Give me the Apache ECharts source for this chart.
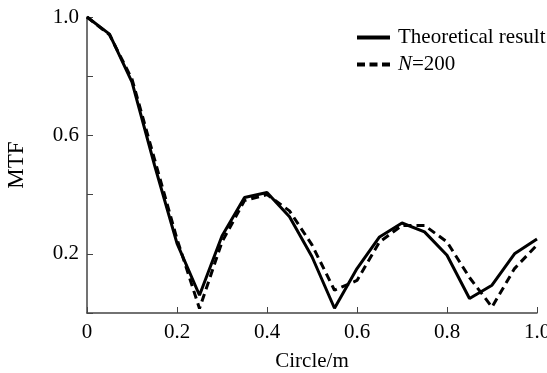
<!DOCTYPE html>
<html>
<head>
<meta charset="utf-8">
<script src="https://cdn.jsdelivr.net/npm/echarts@6/dist/echarts.min.js"></script>
<style>
html,body{margin:0;padding:0;background:#fff;}
#main{width:547px;height:373px;}
</style>
</head>
<body>
<div id="main"></div>
<script>
var xValues = [0, 0.05, 0.1, 0.15, 0.2, 0.25, 0.3, 0.35, 0.4, 0.45, 0.5, 0.55, 0.6, 0.65, 0.7, 0.75, 0.8, 0.85, 0.9, 0.95, 1.0];
var theoretical = [1.0, 0.942, 0.78, 0.50, 0.235, 0.06, 0.26, 0.39, 0.407, 0.325, 0.19, 0.016, 0.15, 0.257, 0.304, 0.274, 0.195, 0.049, 0.094, 0.20, 0.25];
var n200 = [1.0, 0.94, 0.79, 0.52, 0.25, 0.015, 0.24, 0.38, 0.40, 0.345, 0.23, 0.077, 0.11, 0.24, 0.296, 0.296, 0.24, 0.12, 0.02, 0.15, 0.23];
var seriesNames = ['Theoretical result', 'N=200'];
var yLabelsShown = [0.2, 0.6, 1.0];

function pairs(xs, ys) { return xs.map(function (x, i) { return [x, ys[i]]; }); }

var font = 'Liberation Serif, Times New Roman, serif';
var chart = echarts.init(document.getElementById('main'));
chart.setOption({
  backgroundColor: '#ffffff',
  animation: false,
  grid: { left: 87, right: 10, top: 17, bottom: 60, outerBoundsMode: 'none', containLabel: false },
  legend: {
    orient: 'vertical',
    left: 357,
    top: 27,
    padding: 0,
    itemWidth: 33,
    itemHeight: 4,
    itemGap: 6,
    data: [
      { name: seriesNames[0], icon: 'path://M0,0H33V4H0Z' },
      { name: seriesNames[1], icon: 'path://M0,0H8V4H0Z M12.5,0H20.5V4H12.5Z M25,0H33V4H25Z' }
    ],
    textStyle: {
      fontFamily: font, fontSize: 21, color: '#000', lineHeight: 21, padding: [0, 0, 0, 3],
      rich: {
        i: { fontFamily: font, fontSize: 21, fontStyle: 'italic', color: '#000', lineHeight: 21 },
        n: { fontFamily: font, fontSize: 21, color: '#000', lineHeight: 21 }
      }
    },
    formatter: function (name) {
      if (name === 'N=200') return '{i|N}{n|=200}';
      return name;
    }
  },
  xAxis: {
    type: 'value', min: 0, max: 1, interval: 0.2,
    name: 'Circle/m', nameLocation: 'middle', nameGap: 38,
    nameTextStyle: { fontFamily: font, fontSize: 21, color: '#000' },
    axisLine: { lineStyle: { color: '#444', width: 1.5 } },
    axisTick: { inside: true, length: 6, lineStyle: { color: '#444' } },
    splitLine: { show: false },
    axisLabel: {
      fontFamily: font, fontSize: 21, color: '#000', margin: 9,
      formatter: function (v) { return v === 0 ? '0' : v.toFixed(1); }
    }
  },
  yAxis: {
    type: 'value', min: 0, max: 1, interval: 0.2,
    name: 'MTF', nameLocation: 'middle', nameGap: 59, nameRotate: 90,
    nameTextStyle: { fontFamily: font, fontSize: 23, color: '#000' },
    axisLine: { show: true, lineStyle: { color: '#444', width: 1.5 } },
    axisTick: { show: true, inside: true, length: 6, lineStyle: { color: '#444' } },
    splitLine: { show: false },
    axisLabel: {
      fontFamily: font, fontSize: 21, color: '#000', margin: 8,
      formatter: function (v) {
        for (var i = 0; i < yLabelsShown.length; i++) {
          if (Math.abs(v - yLabelsShown[i]) < 1e-6) return v.toFixed(1);
        }
        return '';
      }
    }
  },
  series: [
    {
      name: seriesNames[0], type: 'line', symbol: 'none',
      data: pairs(xValues, theoretical),
      lineStyle: { color: '#000', width: 3 },
      itemStyle: { color: '#000' }
    },
    {
      name: seriesNames[1], type: 'line', symbol: 'none',
      data: pairs(xValues, n200),
      lineStyle: { color: '#000', width: 3, type: [8, 5] },
      itemStyle: { color: '#000' }
    }
  ]
});
</script>
</body>
</html>
